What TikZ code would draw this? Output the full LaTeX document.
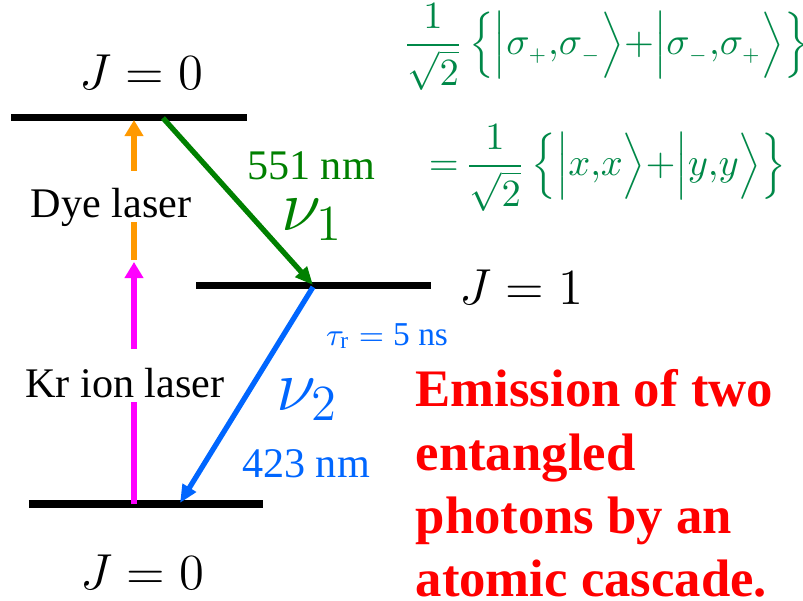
\documentclass[tikz,border=0pt]{standalone}
\usepackage{amsmath,amssymb}
\usepackage{fontspec}
\setmainfont{Liberation Serif}
\usetikzlibrary{arrows.meta}
\definecolor{photongreen}{RGB}{0,128,0}
\definecolor{stategreen}{RGB}{0,136,72}
\definecolor{photonblue}{RGB}{0,102,255}
\definecolor{dyeorange}{RGB}{255,153,0}
\definecolor{krmagenta}{RGB}{255,0,255}
\newcommand{\pol}[1]{\sigma_{\scriptscriptstyle #1}}

\begin{document}
\begin{tikzpicture}[every node/.style={font=\fontsize{12}{14}\selectfont, inner sep=0pt},
	level/.style={line width=2pt},
	pump/.style={line width=1.7pt, -{Triangle[length=1.6mm, width=1.8mm]}},
	photon/.style={line width=1.5pt, -{Triangle[length=1.8mm, width=1.5mm]}},
	lasername/.style={fill=white, inner xsep=1pt, inner ysep=1.5pt, text depth=0pt, anchor=base},
	jlabel/.style={anchor=base, font=\fontsize{15}{18}\selectfont},
	statetext/.style={text=stategreen, font=\fontsize{10.5}{13}\selectfont}]
	\useasboundingbox (0,0) rectangle (8.03,-6);
	\draw[level] (0.11,-1.175) -- (2.47,-1.175);
	\draw[level] (1.96,-2.855) -- (4.31,-2.855);
	\draw[level] (0.29,-5.04) -- (2.63,-5.04);
	\coordinate (g0) at (1.63,-1.18);
	\coordinate (g1) at (3.13,-2.85);
	\coordinate (b0) at (3.13,-2.87);
	\coordinate (b1) at (1.80,-5.03);
	\coordinate (p0) at (1.34,-5.04);
	\coordinate (p1) at (1.34,-2.62);
	\coordinate (p2) at (1.34,-2.60);
	\coordinate (p3) at (1.34,-1.20);
	\draw[pump, krmagenta] (p0) -- (p1);
	\draw[pump, dyeorange] (p2) -- (p3);
	\draw[photon, photongreen] (g0) -- (g1);
	\draw[photon, photonblue] (b0) -- (b1);
	\node[lasername, text height=11.7pt] (dye) at (1.11,-2.17) {Dye laser};
	\node[lasername, text height=12.2pt] (kr) at (1.25,-3.97) {Kr ion laser};
	\node[jlabel] (jtop) at (1.415,-0.895) {$J=0$};
	\node[jlabel] (jmid) at (5.215,-3.04) {$J=1$};
	\node[jlabel] (jbot) at (1.425,-5.89) {$J=0$};
	\node[anchor=base, text=photongreen] (lambda1) at (3.11,-1.79) {551 nm};
	\node[anchor=base, text=photongreen, font=\fontsize{20}{24}\selectfont] (nu1) at (3.12,-2.30) {$\nu_1$};
	\node[anchor=base, text=photonblue, font=\fontsize{9.5}{11}\selectfont] (tau) at (3.87,-3.45) {$\tau_{\mathrm{r}}=\text{5 ns}$};
	\node[anchor=base, text=photonblue, font=\fontsize{20}{24}\selectfont] (nu2) at (3.07,-4.10) {$\nu_2$};
	\node[anchor=base, text=photonblue] (lambda2) at (3.06,-4.77) {423 nm};
	\node[anchor=north west, align=left, text=red, font=\fontsize{15}{18}\selectfont\bfseries] (cascade) at (4.15,-3.69) {Emission of two\\entangled\\photons by an\\atomic cascade.};
	\node[statetext] (circ) at (6.06,-0.47) {$\dfrac{1}{\sqrt{2}}\left\{\Big|\pol{+}{,}\pol{-}\Big\rangle{+}\Big|\pol{-}{,}\pol{+}\Big\rangle\right\}$};
	\node[statetext] (lin) at (6.075,-1.68) {${=}\,\dfrac{1}{\sqrt{2}}\left\{\Big|x{,}x\Big\rangle{+}\Big|y{,}y\Big\rangle\right\}$};
\end{tikzpicture}
\end{document}
